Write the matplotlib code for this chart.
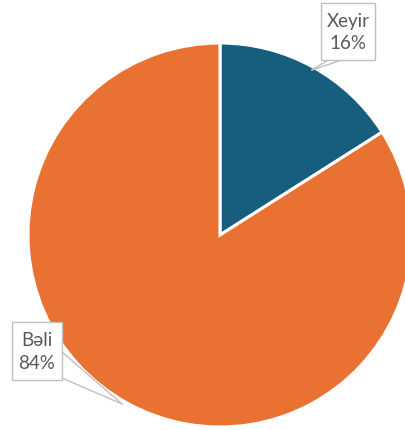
import matplotlib
matplotlib.use("Agg")
import matplotlib.pyplot as plt
from matplotlib.patches import Rectangle, Polygon

labels = ["Xeyir", "Bəli"]
values = [16, 84]
colors = ["#175E7E", "#E97132"]

W, H = 406, 430
fig = plt.figure(figsize=(W / 100, H / 100), dpi=100)
ax = fig.add_axes([0, 0, 1, 1])

def Y(p):
    return H - p

cx, cy, r = 220, Y(235), 192
ax.pie(values, colors=colors, startangle=90, counterclock=False,
       center=(cx, cy), radius=r,
       wedgeprops=dict(edgecolor="white", linewidth=2.2))
ax.set_xlim(0, W)
ax.set_ylim(0, H)
ax.set_aspect("auto")
ax.axis("off")

total = sum(values)
boxes = [
    dict(box=(321, 3, 375, 60), tail=[(328, 60), (342, 60), (312, 70)]),
    dict(box=(12, 322, 62, 380), tail=[(62, 352), (62, 378), (122, 404)]),
]
edge = "#BFBFBF"
for lab, val, b in zip(labels, values, boxes):
    x0, y0, x1, y1 = b["box"]
    tail = [(x, Y(y)) for x, y in b["tail"]]
    ax.add_patch(Polygon(tail, closed=True, facecolor="white", edgecolor="none", zorder=4))
    ax.plot([tail[0][0], tail[2][0]], [tail[0][1], tail[2][1]], color=edge, lw=1, zorder=5)
    ax.plot([tail[1][0], tail[2][0]], [tail[1][1], tail[2][1]], color=edge, lw=1, zorder=5)
    ax.add_patch(Rectangle((x0, Y(y1)), x1 - x0, y1 - y0, facecolor="white",
                           edgecolor=edge, lw=1, zorder=6))
    pct = round(val / total * 100)
    ax.text((x0 + x1) / 2, Y((y0 + y1) / 2) - 1, f"{lab}\n{pct}%", ha="center", va="center",
            fontsize=13.5, color="#595959", family=["Lato", "DejaVu Sans"],
            linespacing=1.4, zorder=7)

fig.savefig("out.png", dpi=100)
